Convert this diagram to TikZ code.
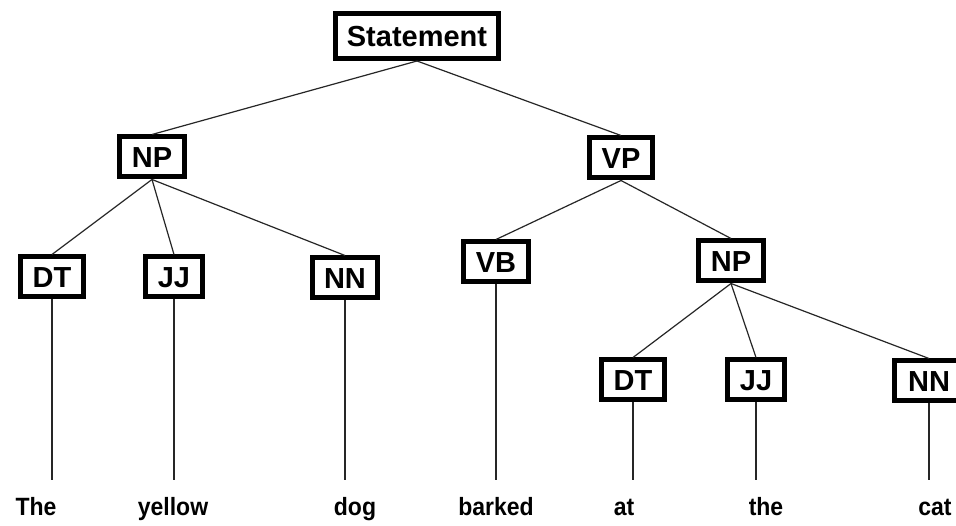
\documentclass[tikz,border=0pt]{standalone}
\usepackage{fontspec}
\setmainfont{Liberation Sans}
\newfontfamily\leaffont[FakeStretch=0.92]{Liberation Sans}
\begin{document}
\begin{tikzpicture}[x=1pt,y=-1pt,
  box/.style={draw=black, line width=5pt, fill=white,
    font=\fontsize{29}{32}\selectfont\bfseries,
    inner xsep=12pt, inner ysep=9.5pt, text height=21pt, text depth=0pt},
  word/.style={font=\leaffont\fontsize{25}{28}\selectfont\bfseries, anchor=base,
    inner sep=0pt, text height=18pt, text depth=0pt},
  edge/.style={line width=1.2pt, draw=black!85},
  leafedge/.style={edge, shorten >=17pt}]
\useasboundingbox (0,0) rectangle (956,526);
\fill[white] (0,0) rectangle (956,526);

\path (417,36) node[box, inner xsep=11pt, inner ysep=12pt] (s) {Statement};
\path (152,157) node[box] (np1) {NP};
\path (621,158) node[box] (vp) {VP};
\path (52,277) node[box] (dt1) {DT};
\path (174,277) node[box] (jj1) {JJ};
\path (345,278) node[box] (nn1) {NN};
\path (496,262) node[box] (vb) {VB};
\path (731,261) node[box] (np2) {NP};
\path (633,380) node[box] (dt2) {DT};
\path (756,380) node[box] (jj2) {JJ};
\path (929,381) node[box, inner xsep=14pt] (nn2) {NN};

\node[word] (w1) at (36,515) {The};
\node[word] (w2) at (173,515) {yellow};
\node[word] (w3) at (355,515) {dog};
\node[word] (w4) at (496,515) {barked};
\node[word] (w5) at (624,515) {at};
\node[word] (w6) at (766,515) {the};
\node[word] (w7) at (935,515) {cat};

\draw[edge] (s.south) -- (np1.north);
\draw[edge] (s.south) -- (vp.north);
\draw[edge] (np1.south) -- (dt1.north);
\draw[edge] (np1.south) -- (jj1.north);
\draw[edge] (np1.south) -- (nn1.north);
\draw[edge] (vp.south) -- (vb.north);
\draw[edge] (vp.south) -- (np2.north);
\draw[edge] (np2.south) -- (dt2.north);
\draw[edge] (np2.south) -- (jj2.north);
\draw[edge] (np2.south) -- (nn2.north);

\draw[leafedge] (dt1.south) -- (dt1.south |- w1.north);
\draw[leafedge] (jj1.south) -- (jj1.south |- w2.north);
\draw[leafedge] (nn1.south) -- (nn1.south |- w3.north);
\draw[leafedge] (vb.south) -- (vb.south |- w4.north);
\draw[leafedge] (dt2.south) -- (dt2.south |- w5.north);
\draw[leafedge] (jj2.south) -- (jj2.south |- w6.north);
\draw[leafedge] (nn2.south) -- (nn2.south |- w7.north);
\end{tikzpicture}
\end{document}
